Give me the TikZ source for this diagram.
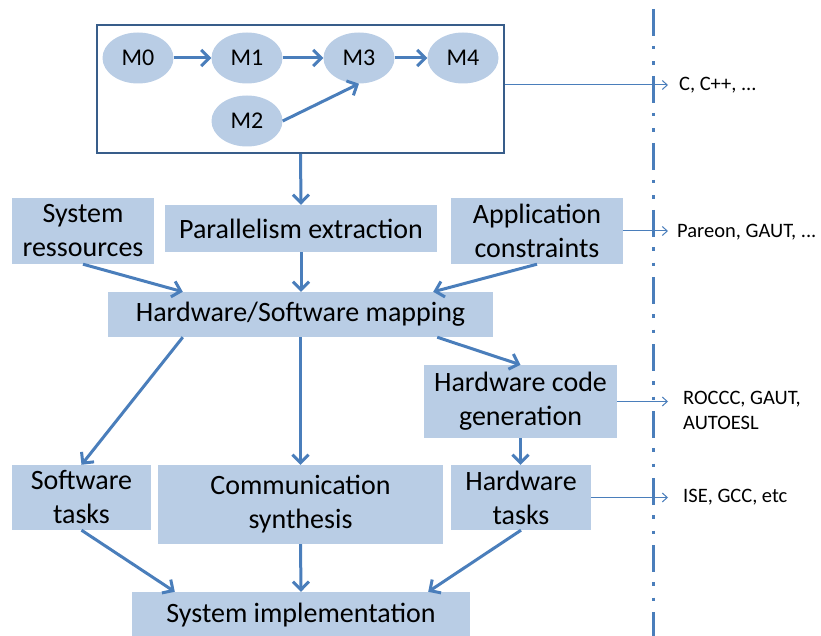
\documentclass[tikz,border=0pt]{standalone}
\usepackage{fontspec}
\setmainfont{Carlito}
\usetikzlibrary{arrows.meta,shapes.geometric}

\definecolor{boxblue}{HTML}{B9CDE5}
\definecolor{flowblue}{HTML}{4A7EBB}
\definecolor{frameblue}{HTML}{385D8A}

\begin{document}
\begin{tikzpicture}[x=1pt, y=-1pt,
  task/.style={fill=boxblue, inner sep=0pt, align=center, font=\fontsize{28}{34}\selectfont},
  mod/.style={ellipse, fill=boxblue, inner sep=0pt, minimum width=71pt, minimum height=51pt, font=\fontsize{24}{28}\selectfont},
  flow/.style={flowblue, line width=3pt, -{Straight Barb[length=8pt,width=16pt]}},
  tool/.style={flowblue, line width=1pt, -{Straight Barb[length=5pt,width=9pt]}},
  toollabel/.style={anchor=west, inner sep=0pt, align=left, font=\fontsize{20.5}{25}\selectfont}]
\useasboundingbox (0,0) rectangle (821,636);

\node[mod] (m0) at (138,58) {M0};
\node[mod] (m1) at (247,58) {M1};
\node[mod] (m3) at (359,58) {M3};
\node[mod] (m4) at (463,58) {M4};
\node[mod] (m2) at (247,121) {M2};
\node[draw=frameblue, line width=2pt, inner sep=0pt, minimum width=407pt, minimum height=128pt] (frame) at (300.5,89) {};

\node[task, minimum width=142pt, minimum height=66pt] (sysres) at (83,231) {System\\ressources};
\node[task, minimum width=272pt, minimum height=47pt] (para) at (301,228.5) {Parallelism extraction};
\node[task, minimum width=172pt, minimum height=66pt] (appcons) at (537,231) {Application\\constraints};
\node[task, minimum width=385pt, minimum height=45pt] (mapping) at (300.5,314.5) {Hardware/Software mapping};
\node[task, minimum width=193pt, minimum height=73pt] (hwcode) at (520.5,401.5) {Hardware code\\generation};
\node[task, minimum width=139pt, minimum height=65pt] (swtasks) at (81.5,497.5) {Software\\tasks};
\node[task, minimum width=285pt, minimum height=79pt] (comm) at (300.5,504.5) {Communication\\synthesis};
\node[task, minimum width=140pt, minimum height=65pt] (hwtasks) at (521,497.5) {Hardware\\tasks};
\node[task, minimum width=338pt, minimum height=46pt] (sysimpl) at (301,615) {System implementation};

\draw[flow] (m0) -- (m1);
\draw[flow] (m1) -- (m3);
\draw[flow] (m3) -- (m4);
\draw[flow] (m2.east) -- (m3.south);
\draw[flow] (frame.south) -- (para.north);
\draw[flow] (sysres.south) -- ([xshift=75pt]mapping.north west);
\draw[flow] (para.south) -- (para.south |- mapping.north);
\draw[flow] (appcons.south) -- ([xshift=-60pt]mapping.north east);
\draw[flow] ([xshift=75pt]mapping.south west) -- (swtasks.north);
\draw[flow] (mapping.south) -- (comm.north);
\draw[flow] ([xshift=-56pt]mapping.south east) -- (hwcode.north);
\draw[flow] (hwcode.south) -- (hwcode.south |- hwtasks.north);
\draw[flow] (swtasks.south) -- ([xshift=43pt]sysimpl.north west);
\draw[flow] (comm.south) -- (sysimpl.north);
\draw[flow] (hwtasks.south) -- ([xshift=-42pt]sysimpl.north east);

\draw[flowblue, line width=3pt, dash pattern=on 27pt off 10pt on 3.5pt off 12pt on 3.5pt off 11pt] (653,9) -- (653,636);

\coordinate (tip) at (668,0);
\node[toollabel] (lang) at (679,85) {C, C++, ...};
\node[toollabel] (partools) at (677,232) {Pareon, GAUT, ...};
\node[toollabel] (hlstools) at (683,410) {ROCCC, GAUT,\\AUTOESL};
\node[toollabel] (ccomp) at (683,497) {ISE, GCC, etc};
\draw[tool] ([yshift=4pt]frame.east) -- ([yshift=4pt]frame.east -| tip);
\draw[tool] (appcons.east) -- (appcons.east -| tip);
\draw[tool] (hwcode.east) -- (hwcode.east -| tip);
\draw[tool] (hwtasks.east) -- (hwtasks.east -| tip);
\end{tikzpicture}
\end{document}
